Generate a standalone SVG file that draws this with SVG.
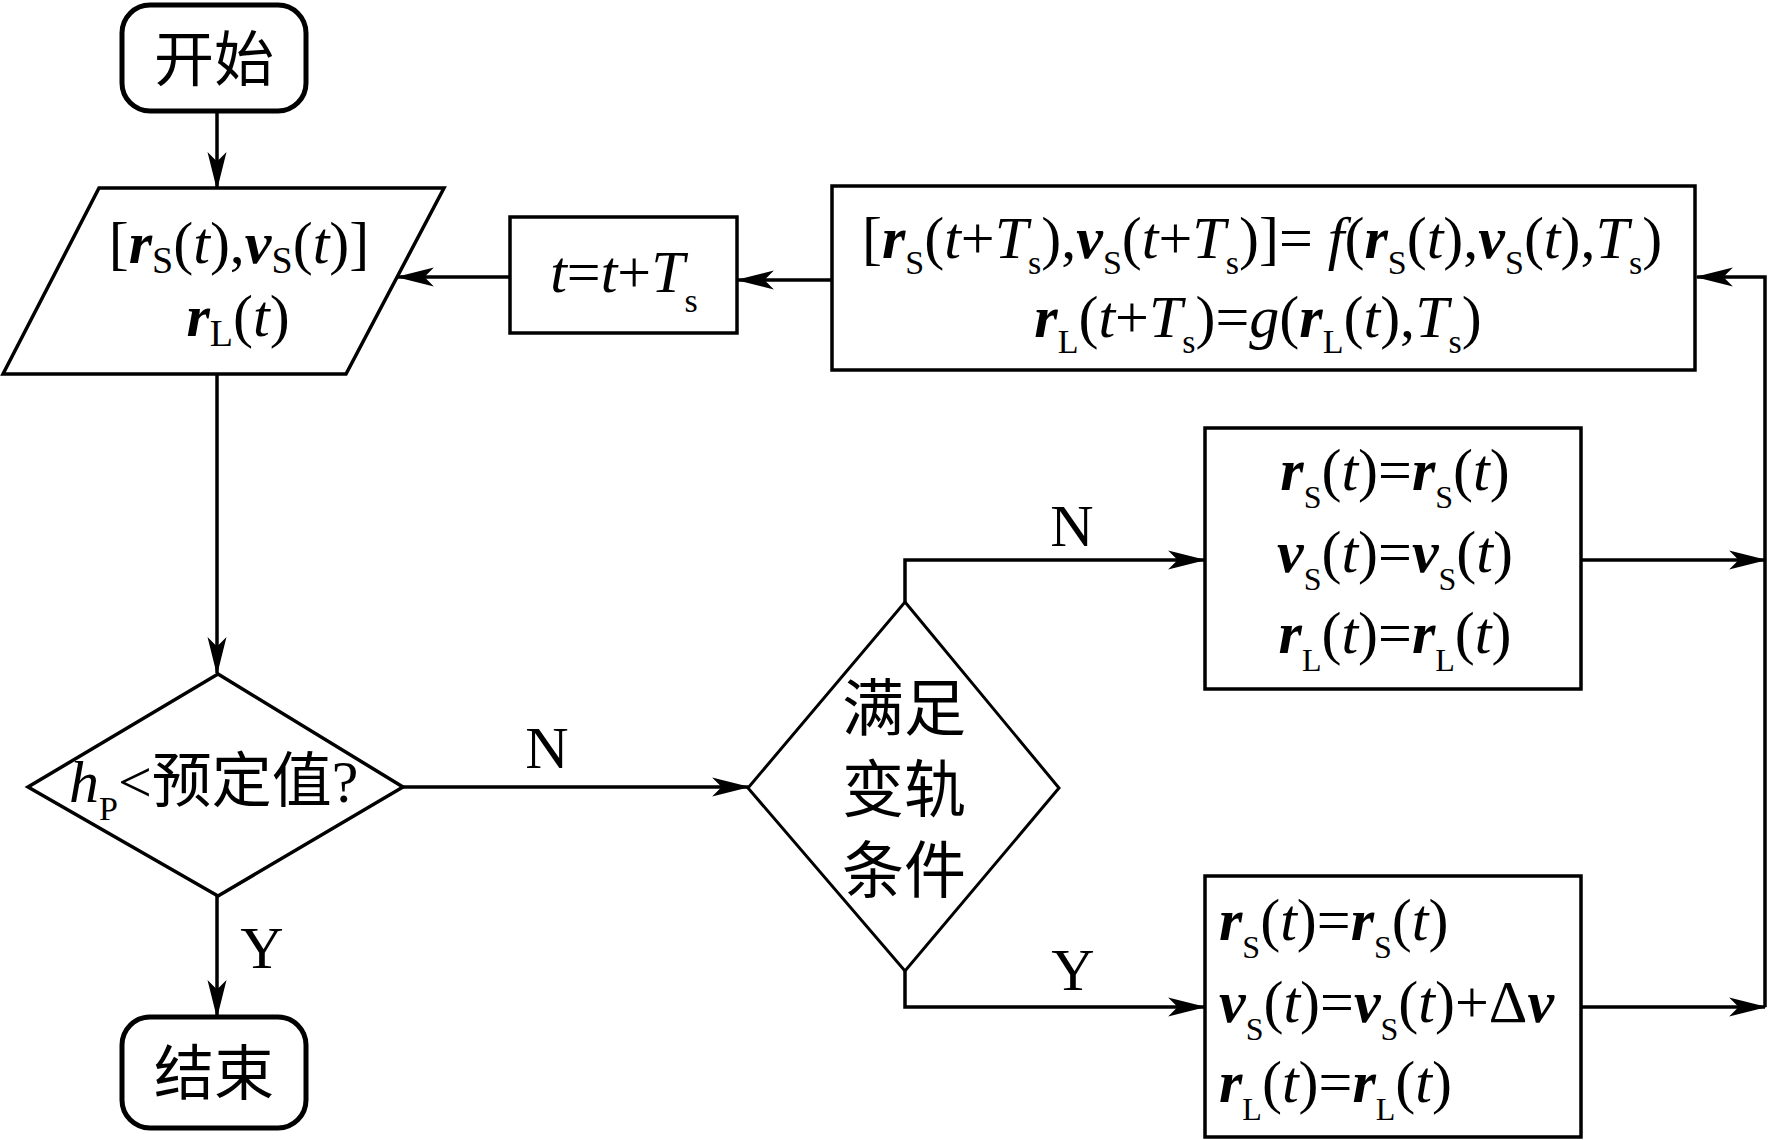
<svg xmlns="http://www.w3.org/2000/svg" width="1771" height="1140" viewBox="0 0 1771 1140">
<defs>
<style>
.shape{fill:#fff;stroke:#000;stroke-width:3.5;stroke-linejoin:miter}
.term{fill:#fff;stroke:#000;stroke-width:5}
.conn{fill:none;stroke:#000;stroke-width:3.5}
text{font-family:"Liberation Serif","Noto Sans CJK SC",serif;fill:#000;font-size:60px}
.cjk{font-family:"Noto Sans CJK SC","Liberation Serif",sans-serif;font-size:60px}
.bi{font-weight:bold;font-style:italic}
.i{font-style:italic}
.mid{text-anchor:middle}
</style>
<marker id="ah" markerUnits="userSpaceOnUse" markerWidth="38" markerHeight="22" viewBox="0 0 36 20" refX="34" refY="10" orient="auto">
<path d="M0,1 L36,10 L0,19 L9,10 Z" fill="#000"/>
</marker>
</defs>
<rect x="0" y="0" width="1771" height="1140" fill="#fff"/>

<g id="connectors">
<path class="conn" d="M217,111 L217,188" marker-end="url(#ah)"/>
<path class="conn" d="M217,374 L217,673" marker-end="url(#ah)"/>
<path class="conn" d="M217,896 L217,1016" marker-end="url(#ah)"/>
<path class="conn" d="M403,787 L748,787" marker-end="url(#ah)"/>
<path class="conn" d="M905,602 L905,560 L1204,560" marker-end="url(#ah)"/>
<path class="conn" d="M905,971 L905,1007 L1204,1007" marker-end="url(#ah)"/>
<path class="conn" d="M1581,560 L1765,560" marker-end="url(#ah)"/>
<path class="conn" d="M1581,1007 L1765,1007" marker-end="url(#ah)"/>
<path class="conn" d="M1765,1007 L1765,277 L1697,277" marker-end="url(#ah)"/>
<path class="conn" d="M832,280 L738,280" marker-end="url(#ah)"/>
<path class="conn" d="M510,277 L398,277" marker-end="url(#ah)"/>
<text class="mid" x="547" y="768">N</text>
<text class="mid" x="262" y="968">Y</text>
<text class="mid" x="1072" y="546">N</text>
<text class="mid" x="1073" y="990">Y</text>
</g>

<g id="start">
<rect class="term" x="122" y="5" width="184" height="106" rx="28" ry="28"/>
<text class="cjk mid" x="214" y="81">开始</text>
</g>

<g id="input">
<polygon class="shape" points="99,188 444,188 346,374 3,374"/>
<text class="mid" x="239" y="263">[<tspan class="bi">r</tspan><tspan font-size="38" dy="10">S</tspan><tspan dy="-10">(</tspan><tspan class="i">t</tspan>),<tspan class="bi">v</tspan><tspan font-size="38" dy="10">S</tspan><tspan dy="-10">(</tspan><tspan class="i">t</tspan>)]</text>
<text class="mid" x="238" y="336"><tspan class="bi">r</tspan><tspan font-size="38" dy="10">L</tspan><tspan dy="-10">(</tspan><tspan class="i">t</tspan>)</text>
</g>

<g id="step">
<rect class="shape" x="510" y="217" width="227" height="116"/>
<text class="mid" x="624" y="292"><tspan class="i">t</tspan>=<tspan class="i">t</tspan>+<tspan class="i">T</tspan><tspan font-size="34" dy="20">s</tspan></text>
</g>

<g id="propagate">
<rect class="shape" x="832" y="186" width="863" height="184"/>
<text class="mid" x="1262" y="258">[<tspan class="bi">r</tspan><tspan font-size="34" dy="16">S</tspan><tspan dy="-16">(</tspan><tspan class="i">t</tspan>+<tspan class="i">T</tspan><tspan font-size="34" dy="16">s</tspan><tspan dy="-16">),</tspan><tspan class="bi">v</tspan><tspan font-size="34" dy="16">S</tspan><tspan dy="-16">(</tspan><tspan class="i">t</tspan>+<tspan class="i">T</tspan><tspan font-size="34" dy="16">s</tspan><tspan dy="-16">)]= </tspan><tspan class="i">f</tspan>(<tspan class="bi">r</tspan><tspan font-size="34" dy="16">S</tspan><tspan dy="-16">(</tspan><tspan class="i">t</tspan>),<tspan class="bi">v</tspan><tspan font-size="34" dy="16">S</tspan><tspan dy="-16">(</tspan><tspan class="i">t</tspan>),<tspan class="i">T</tspan><tspan font-size="34" dy="16">s</tspan><tspan dy="-16">)</tspan></text>
<text class="mid" x="1258" y="337"><tspan class="bi">r</tspan><tspan font-size="34" dy="16">L</tspan><tspan dy="-16">(</tspan><tspan class="i">t</tspan>+<tspan class="i">T</tspan><tspan font-size="34" dy="16">s</tspan><tspan dy="-16">)=</tspan><tspan class="i">g</tspan>(<tspan class="bi">r</tspan><tspan font-size="34" dy="16">L</tspan><tspan dy="-16">(</tspan><tspan class="i">t</tspan>),<tspan class="i">T</tspan><tspan font-size="34" dy="16">s</tspan><tspan dy="-16">)</tspan></text>
</g>

<g id="check-height">
<polygon class="shape" points="218,674 403,787 218,896 28,787"/>
<text x="69" y="802"><tspan class="i">h</tspan><tspan font-size="34" dy="18">P</tspan><tspan dy="-18">&lt;预定值?</tspan></text>
</g>

<g id="check-maneuver">
<polygon class="shape" style="stroke-width:3" points="905,602 1059,788 905,971 748,788"/>
<text class="cjk mid" style="font-size:62px" x="904" y="731">满足<tspan x="904" dy="81">变轨</tspan><tspan x="904" dy="81">条件</tspan></text>
</g>

<g id="no-maneuver">
<rect class="shape" x="1205" y="428" width="376" height="261"/>
<text class="mid" x="1395" y="490"><tspan class="bi">r</tspan><tspan font-size="32" dy="18">S</tspan><tspan dy="-18">(</tspan><tspan class="i">t</tspan>)=<tspan class="bi">r</tspan><tspan font-size="32" dy="18">S</tspan><tspan dy="-18">(</tspan><tspan class="i">t</tspan>)</text>
<text class="mid" x="1395" y="572"><tspan class="bi">v</tspan><tspan font-size="32" dy="18">S</tspan><tspan dy="-18">(</tspan><tspan class="i">t</tspan>)=<tspan class="bi">v</tspan><tspan font-size="32" dy="18">S</tspan><tspan dy="-18">(</tspan><tspan class="i">t</tspan>)</text>
<text class="mid" x="1395" y="653"><tspan class="bi">r</tspan><tspan font-size="32" dy="18">L</tspan><tspan dy="-18">(</tspan><tspan class="i">t</tspan>)=<tspan class="bi">r</tspan><tspan font-size="32" dy="18">L</tspan><tspan dy="-18">(</tspan><tspan class="i">t</tspan>)</text>
</g>

<g id="maneuver">
<rect class="shape" x="1205" y="876" width="376" height="261"/>
<text x="1219" y="940"><tspan class="bi">r</tspan><tspan font-size="32" dy="18">S</tspan><tspan dy="-18">(</tspan><tspan class="i">t</tspan>)=<tspan class="bi">r</tspan><tspan font-size="32" dy="18">S</tspan><tspan dy="-18">(</tspan><tspan class="i">t</tspan>)</text>
<text x="1219" y="1022"><tspan class="bi">v</tspan><tspan font-size="32" dy="18">S</tspan><tspan dy="-18">(</tspan><tspan class="i">t</tspan>)=<tspan class="bi">v</tspan><tspan font-size="32" dy="18">S</tspan><tspan dy="-18">(</tspan><tspan class="i">t</tspan>)+Δ<tspan class="bi">v</tspan></text>
<text x="1219" y="1102"><tspan class="bi">r</tspan><tspan font-size="32" dy="18">L</tspan><tspan dy="-18">(</tspan><tspan class="i">t</tspan>)=<tspan class="bi">r</tspan><tspan font-size="32" dy="18">L</tspan><tspan dy="-18">(</tspan><tspan class="i">t</tspan>)</text>
</g>

<g id="end">
<rect class="term" x="122" y="1017" width="184" height="111" rx="28" ry="28"/>
<text class="cjk mid" x="214" y="1095">结束</text>
</g>
</svg>
